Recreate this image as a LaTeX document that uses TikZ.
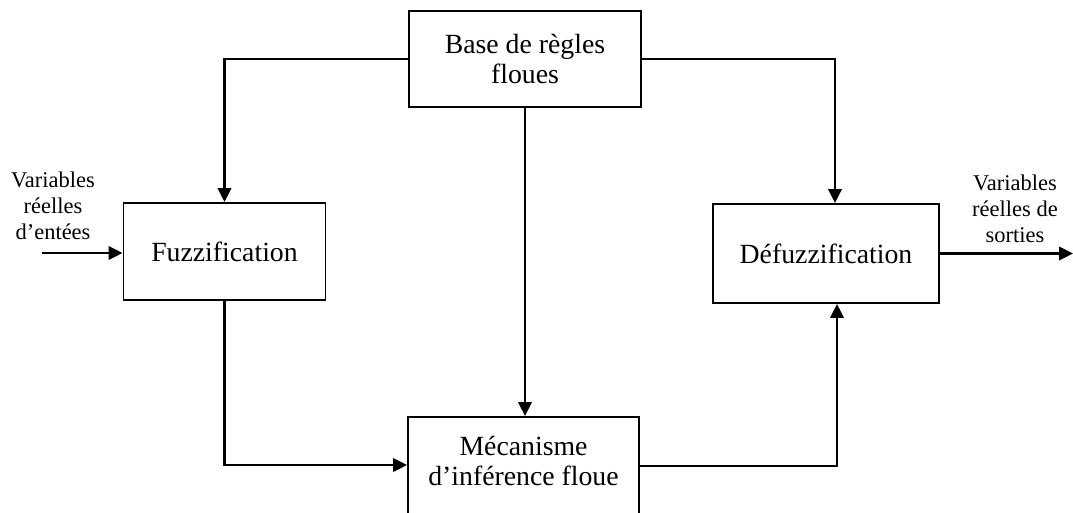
\documentclass[tikz,border=0pt]{standalone}
\usepackage{fontspec}
\setmainfont{Liberation Serif}
\usetikzlibrary{positioning, calc, arrows.meta}

\begin{document}
\begin{tikzpicture}[x=0.02cm, y=-0.02cm,
  bloc/.style={draw, line width=1.1pt, align=center, inner sep=0pt,
    font=\fontsize{15.8}{17}\selectfont},
  etiq/.style={align=center, inner sep=0pt, font=\fontsize{12.8}{14.7}\selectfont},
  fleche/.style={line width=1.4pt, -{Triangle[length=0.28cm, width=0.27cm]}}]

\clip (0,0) rectangle (1073,513);

\node[bloc, minimum width=232*0.02cm, minimum height=96*0.02cm] (base) at (525,59) {Base de règles\\floues};
\node[bloc, minimum width=202*0.02cm, minimum height=97*0.02cm] (fuzz) at (224.5,251.5) {Fuzzification};
\node[bloc, minimum width=226*0.02cm, minimum height=99*0.02cm] (defuzz) at (826,253.5) {Défuzzification};
\node[bloc, minimum width=231*0.02cm, anchor=north, inner ysep=0.38cm] (meca) at (523.5,416) {Mécanisme\\d’inférence floue\\[3cm]\mbox{}};

\node[etiq] (entree) at (53,206) {Variables\\réelles\\d’entées};
\node[etiq] (sortie) at (1015,209) {Variables\\réelles de\\sorties};

\coordinate (in) at (42,253);
\coordinate (out) at (1073,253.5);

\draw[fleche] (in) -- (in -| fuzz.west);
\draw[fleche] (defuzz.east) -- (out);

\draw[fleche] (base.west) -| (fuzz.north);
\draw[fleche] (base.east) -| ($(defuzz.north)+(9,0)$);
\draw[fleche] (base.south) -- (base.south |- meca.north);
\draw[fleche] (fuzz.south) |- ($(meca.north west)+(0,49)$);
\draw[fleche] ($(meca.north east)+(0,50)$) -| ($(defuzz.south)+(11,0)$);

\end{tikzpicture}
\end{document}
